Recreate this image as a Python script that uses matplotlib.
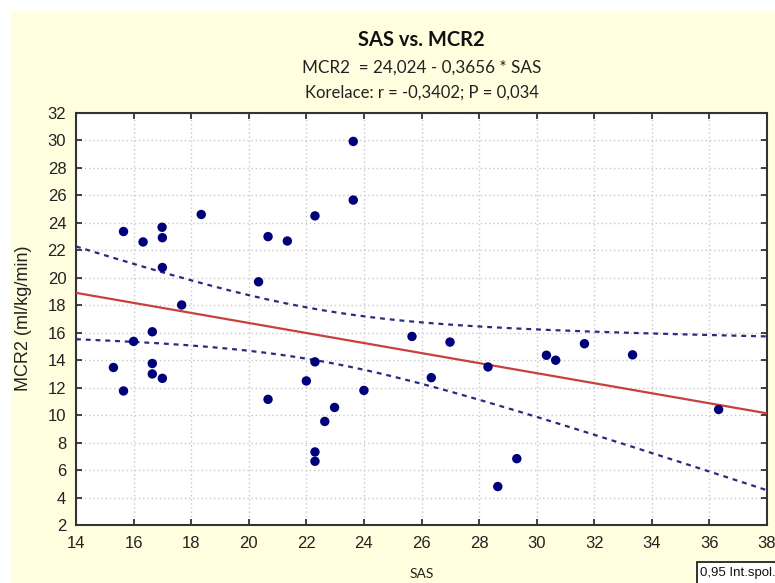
import numpy as np
import matplotlib
matplotlib.use("Agg")
import matplotlib.pyplot as plt
from matplotlib.patches import Rectangle

# ---- data ----
sas = [15.30, 15.65, 15.65, 16.33, 16.99, 17.00, 17.00, 16.00, 16.65, 16.65,
       16.65, 17.00, 17.67, 18.35, 20.67, 21.34, 20.34, 20.67, 22.00,
       23.63, 23.63, 22.30, 22.30, 24.00, 22.98, 22.64, 22.30, 22.30,
       25.67, 26.99, 26.34, 28.31,
       30.34, 30.66, 31.66, 33.33, 36.32, 29.31, 28.65]
mcr2 = [13.47, 11.76, 23.37, 22.61, 23.68, 22.92, 20.75, 15.37, 16.07, 13.76,
        13.00, 12.68, 18.02, 24.61, 23.00, 22.68, 19.71, 11.15, 12.49,
        29.93, 25.66, 24.51, 13.88, 11.80, 10.56, 9.54, 7.32, 6.64,
        15.73, 15.32, 12.73, 13.51,
        14.36, 14.00, 15.20, 14.39, 10.41, 6.83, 4.80]
intercept = 24.024
slope = -0.3656
x_ticks = list(range(14, 39, 2))
y_ticks = list(range(2, 33, 2))

title = "SAS vs. MCR2"
eq_text = "MCR2  = 24,024 - 0,3656 * SAS"
corr_text = "Korelace: r = -0,3402; P = 0,034"
legend_text = "0,95 Int.spol."

# ---- figure ----
W, H = 775, 583
fig = plt.figure(figsize=(W / 100, H / 100), dpi=100)
fig.patch.set_facecolor("white")
cream = "#FFFFE0"
fig.patches.append(Rectangle((11 / W, 0), 1 - 11 / W, 1 - 12 / H,
                             transform=fig.transFigure, facecolor=cream,
                             edgecolor="none", zorder=-10))

ax = fig.add_axes([76 / W, 1 - 525 / H, (767 - 76) / W, (525 - 113) / H])
ax.set_facecolor("white")

x = np.array(sas)
y = np.array(mcr2)
n = len(x)
xs = np.linspace(14, 38, 200)
yhat = intercept + slope * xs
resid = y - (intercept + slope * x)
s = np.sqrt(np.sum(resid ** 2) / (n - 2))
xbar = x.mean()
sxx = np.sum((x - xbar) ** 2)
tval = 2.026
half = tval * s * np.sqrt(1 / n + (xs - xbar) ** 2 / sxx)

ax.plot(xs, yhat, color="#c8403c", lw=1.6, zorder=3)
ax.plot(xs, yhat + half, color="#2a2a80", lw=1.6, ls=(0, (2.2, 2.2)), zorder=3)
ax.plot(xs, yhat - half, color="#2a2a80", lw=1.6, ls=(0, (2.2, 2.2)), zorder=3)
ax.scatter(x, y, s=46, color="#00007a", zorder=4, edgecolors="none")

ax.set_xlim(14, 38)
ax.set_ylim(2, 32)
ax.set_xticks(x_ticks)
ax.set_yticks(y_ticks)
tickfont = {"family": "Liberation Sans", "size": 12}
ax.set_xticklabels([str(t) for t in x_ticks], fontdict=tickfont)
ax.set_yticklabels([str(t) for t in y_ticks], fontdict=tickfont)
ax.tick_params(direction="in", length=4, width=1.2, top=True, right=True,
               colors="#222222")
ax.tick_params(axis="y", pad=7)
ax.tick_params(axis="x", pad=8)
ax.grid(True, color="#c8c8c8", ls=(0, (1, 2)), lw=1)
for sp in ax.spines.values():
    sp.set_linewidth(1.5)
    sp.set_color("#333333")

fig.text(24 / W, 1 - 318 / H, "MCR2 (ml/kg/min)", rotation=90, ha="center",
         va="center", family="Liberation Sans", fontsize=13, color="#222222")
cx = ax.get_position().x0 + ax.get_position().width / 2
fig.text(cx, 1 - 574 / H, "SAS", ha="center", va="center", family="Lato",
         fontsize=10, color="#222222")

fig.text(cx, 1 - 40 / H, title, ha="center", va="center", family="Lato",
         fontweight="bold", fontsize=14.5, color="#111111")
fig.text(cx, 1 - 68 / H, eq_text, ha="center", va="center", family="Lato",
         fontsize=12.3, color="#222222")
fig.text(cx, 1 - 93 / H, corr_text, ha="center", va="center", family="Lato",
         fontsize=12, color="#222222")

# legend box at the bottom-right corner
fig.patches.append(Rectangle((697 / W, -0.01), (790 - 697) / W, (0.01 + (583 - 562) / H),
                             transform=fig.transFigure, facecolor="white",
                             edgecolor="#222222", lw=1.3, zorder=5))
fig.text(700 / W, 1 - 573 / H, legend_text, ha="left", va="center",
         family="Liberation Sans", fontsize=9.5, color="#111111", zorder=6)

fig.savefig("out.png", dpi=100, facecolor=fig.get_facecolor())
